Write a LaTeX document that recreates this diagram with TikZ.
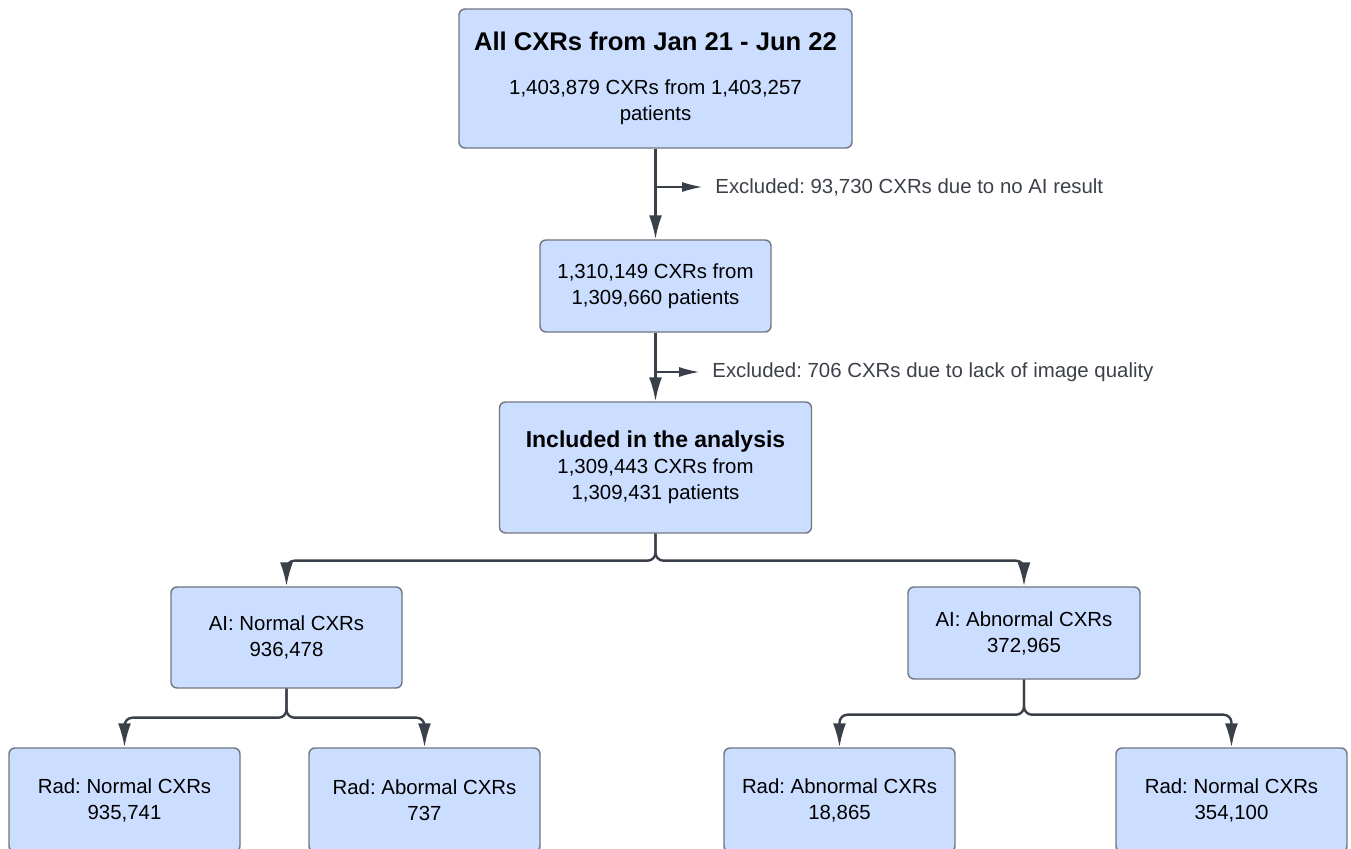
\documentclass[tikz,border=0pt]{standalone}
\usepackage{fontspec}
\setmainfont{Liberation Sans}
\usetikzlibrary{arrows.meta,positioning,calc}
\definecolor{boxfill}{RGB}{204,222,255}
\definecolor{boxline}{RGB}{112,118,128}
\definecolor{arrline}{RGB}{58,64,74}
\definecolor{extext}{RGB}{60,64,72}
\frenchspacing

\begin{document}
\begin{tikzpicture}[x=0.5pt,y=-0.5pt,font=\fontsize{10.2}{13}\selectfont,>=Latex,
  box/.style={draw=boxline,fill=boxfill,line width=0.7pt,rounded corners=3pt,align=center,inner sep=0pt,text=black},
  flow/.style={->,draw=arrline,line width=1.2pt,>={Latex[length=12pt,width=6.5pt]}},
  exarr/.style={->,draw=arrline,line width=0.6pt,shorten >=6.5pt,>={Latex[length=10pt,width=5pt]}},
  excl/.style={anchor=west,inner sep=0pt,text=extext}]
  \clip (0,0) rectangle (1351,849);
  % main column
  \node[box,minimum width=196.5pt,minimum height=69.5pt] (all) at (655.5,78.5)
    {{\fontsize{12.8}{15}\selectfont\bfseries All CXRs from Jan 21 - Jun 22}\\[9pt]
     1,403,879 CXRs from 1,403,257\\patients};
  \node[box,minimum width=115.5pt,minimum height=46pt] (pts) at (655.5,286)
    {1,310,149 CXRs from\\1,309,660 patients};
  \node[box,minimum width=156pt,minimum height=65.5pt] (inc) at (655.5,467.5)
    {{\fontsize{11.5}{14}\selectfont\bfseries Included in the analysis}\\
     1,309,443 CXRs from\\1,309,431 patients};
  % exclusions
  \coordinate (x1) at (655.5,187);
  \node[excl] (ex1) at (715,187) {Excluded: 93,730 CXRs due to no AI result};
  \coordinate (x2) at (655.5,372);
  \node[excl] (ex2) at (712,372) {Excluded: 706 CXRs due to lack of image quality};
  % AI split
  \node[box,minimum width=115.5pt,minimum height=50.5pt] (ain) at (286.5,637.5)
    {AI: Normal CXRs\\936,478};
  \node[box,minimum width=116pt,minimum height=46pt] (aab) at (1024,633)
    {AI: Abnormal CXRs\\372,965};
  % radiologist rows (cut by the bottom edge)
  \node[box,minimum width=115.5pt,minimum height=52pt] (rn1) at (124.5,800)
    {Rad: Normal CXRs\\935,741};
  \node[box,minimum width=115.5pt,minimum height=52pt] (ra1) at (424.5,800)
    {Rad: Abormal CXRs\\737};
  \node[box,minimum width=115.5pt,minimum height=52pt] (ra2) at (839.5,800)
    {Rad: Abnormal CXRs\\18,865};
  \node[box,minimum width=115.5pt,minimum height=52pt] (rn2) at (1231.5,800)
    {Rad: Normal CXRs\\354,100};
  % connectors
  \draw[flow] (all) -- (pts);
  \draw[flow] (pts) -- (inc);
  \draw[exarr] (x1) -- (ex1);
  \draw[exarr] (x2) -- (ex2);
  \draw[flow,rounded corners=4pt] (inc.south) -- ++(0,27) -| (ain.north);
  \draw[flow,rounded corners=4pt] (inc.south) -- ++(0,27) -| (aab.north);
  \draw[flow,rounded corners=4pt] (ain.south) -- ++(0,29) -| (rn1.north);
  \draw[flow,rounded corners=4pt] (ain.south) -- ++(0,29) -| (ra1.north);
  \draw[flow,rounded corners=4pt] (aab.south) -- ++(0,35) -| (ra2.north);
  \draw[flow,rounded corners=4pt] (aab.south) -- ++(0,35) -| (rn2.north);
\end{tikzpicture}
\end{document}
